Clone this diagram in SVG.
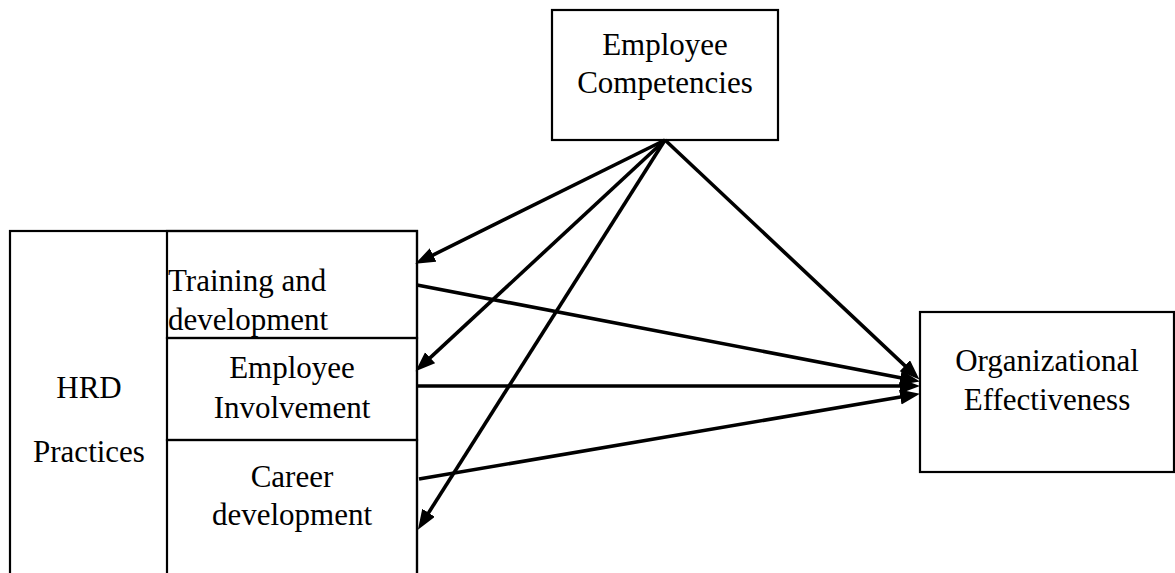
<svg xmlns="http://www.w3.org/2000/svg" width="1175" height="573" viewBox="0 0 1175 573">
  <style>
    .box { fill: none; stroke: #000; stroke-width: 2.2; }
    .lbl { font-family: "Liberation Serif", "Times New Roman", serif; font-size: 31px; fill: #000; }
    .mid { text-anchor: middle; }
    .edge { stroke: #000; stroke-width: 3.6; fill: none; marker-end: url(#arrow); }
  </style>
  <defs>
    <marker id="arrow" markerUnits="userSpaceOnUse" markerWidth="22" markerHeight="16" refX="12" refY="7.5" orient="auto">
      <path d="M0,0 L20,7.5 L0,15 z" fill="#000"/>
    </marker>
  </defs>
  <rect width="1175" height="573" fill="#fff"/>

  <!-- HRD Practices container (runs off the bottom edge) -->
  <g id="hrd-practices">
    <rect class="box" x="10" y="231" width="407" height="360"/>
    <text class="lbl mid" x="89" y="398">HRD</text>
    <text class="lbl mid" x="89" y="462">Practices</text>
  </g>

  <g id="training-development">
    <rect class="box" x="167" y="231" width="250" height="107"/>
    <text class="lbl" x="168" y="291">Training and</text>
    <text class="lbl" x="168" y="330">development</text>
  </g>

  <g id="employee-involvement">
    <rect class="box" x="167" y="338" width="250" height="102"/>
    <text class="lbl mid" x="292" y="378">Employee</text>
    <text class="lbl mid" x="292" y="418">Involvement</text>
  </g>

  <g id="career-development">
    <rect class="box" x="167" y="440" width="250" height="150"/>
    <text class="lbl mid" x="292" y="487">Career</text>
    <text class="lbl mid" x="292" y="525">development</text>
  </g>

  <g id="employee-competencies">
    <rect class="box" x="552" y="10" width="226" height="130"/>
    <text class="lbl mid" x="665" y="55">Employee</text>
    <text class="lbl mid" x="665" y="93">Competencies</text>
  </g>

  <g id="organizational-effectiveness">
    <rect class="box" x="920" y="312" width="254" height="160"/>
    <text class="lbl mid" x="1047" y="371">Organizational</text>
    <text class="lbl mid" x="1047" y="410">Effectiveness</text>
  </g>

  <g id="connectors">
    <line class="edge" x1="665" y1="140" x2="422.4" y2="260.3"/>
    <line class="edge" x1="665" y1="140" x2="421.4" y2="365.9"/>
    <line class="edge" x1="665" y1="140" x2="422.2" y2="522.9"/>
    <line class="edge" x1="665" y1="140" x2="913.6" y2="373.9"/>
    <line class="edge" x1="417" y1="285" x2="912.1" y2="379.9"/>
    <line class="edge" x1="417" y1="386" x2="912" y2="386"/>
    <line class="edge" x1="419" y1="479" x2="912.1" y2="395"/>
  </g>
</svg>
